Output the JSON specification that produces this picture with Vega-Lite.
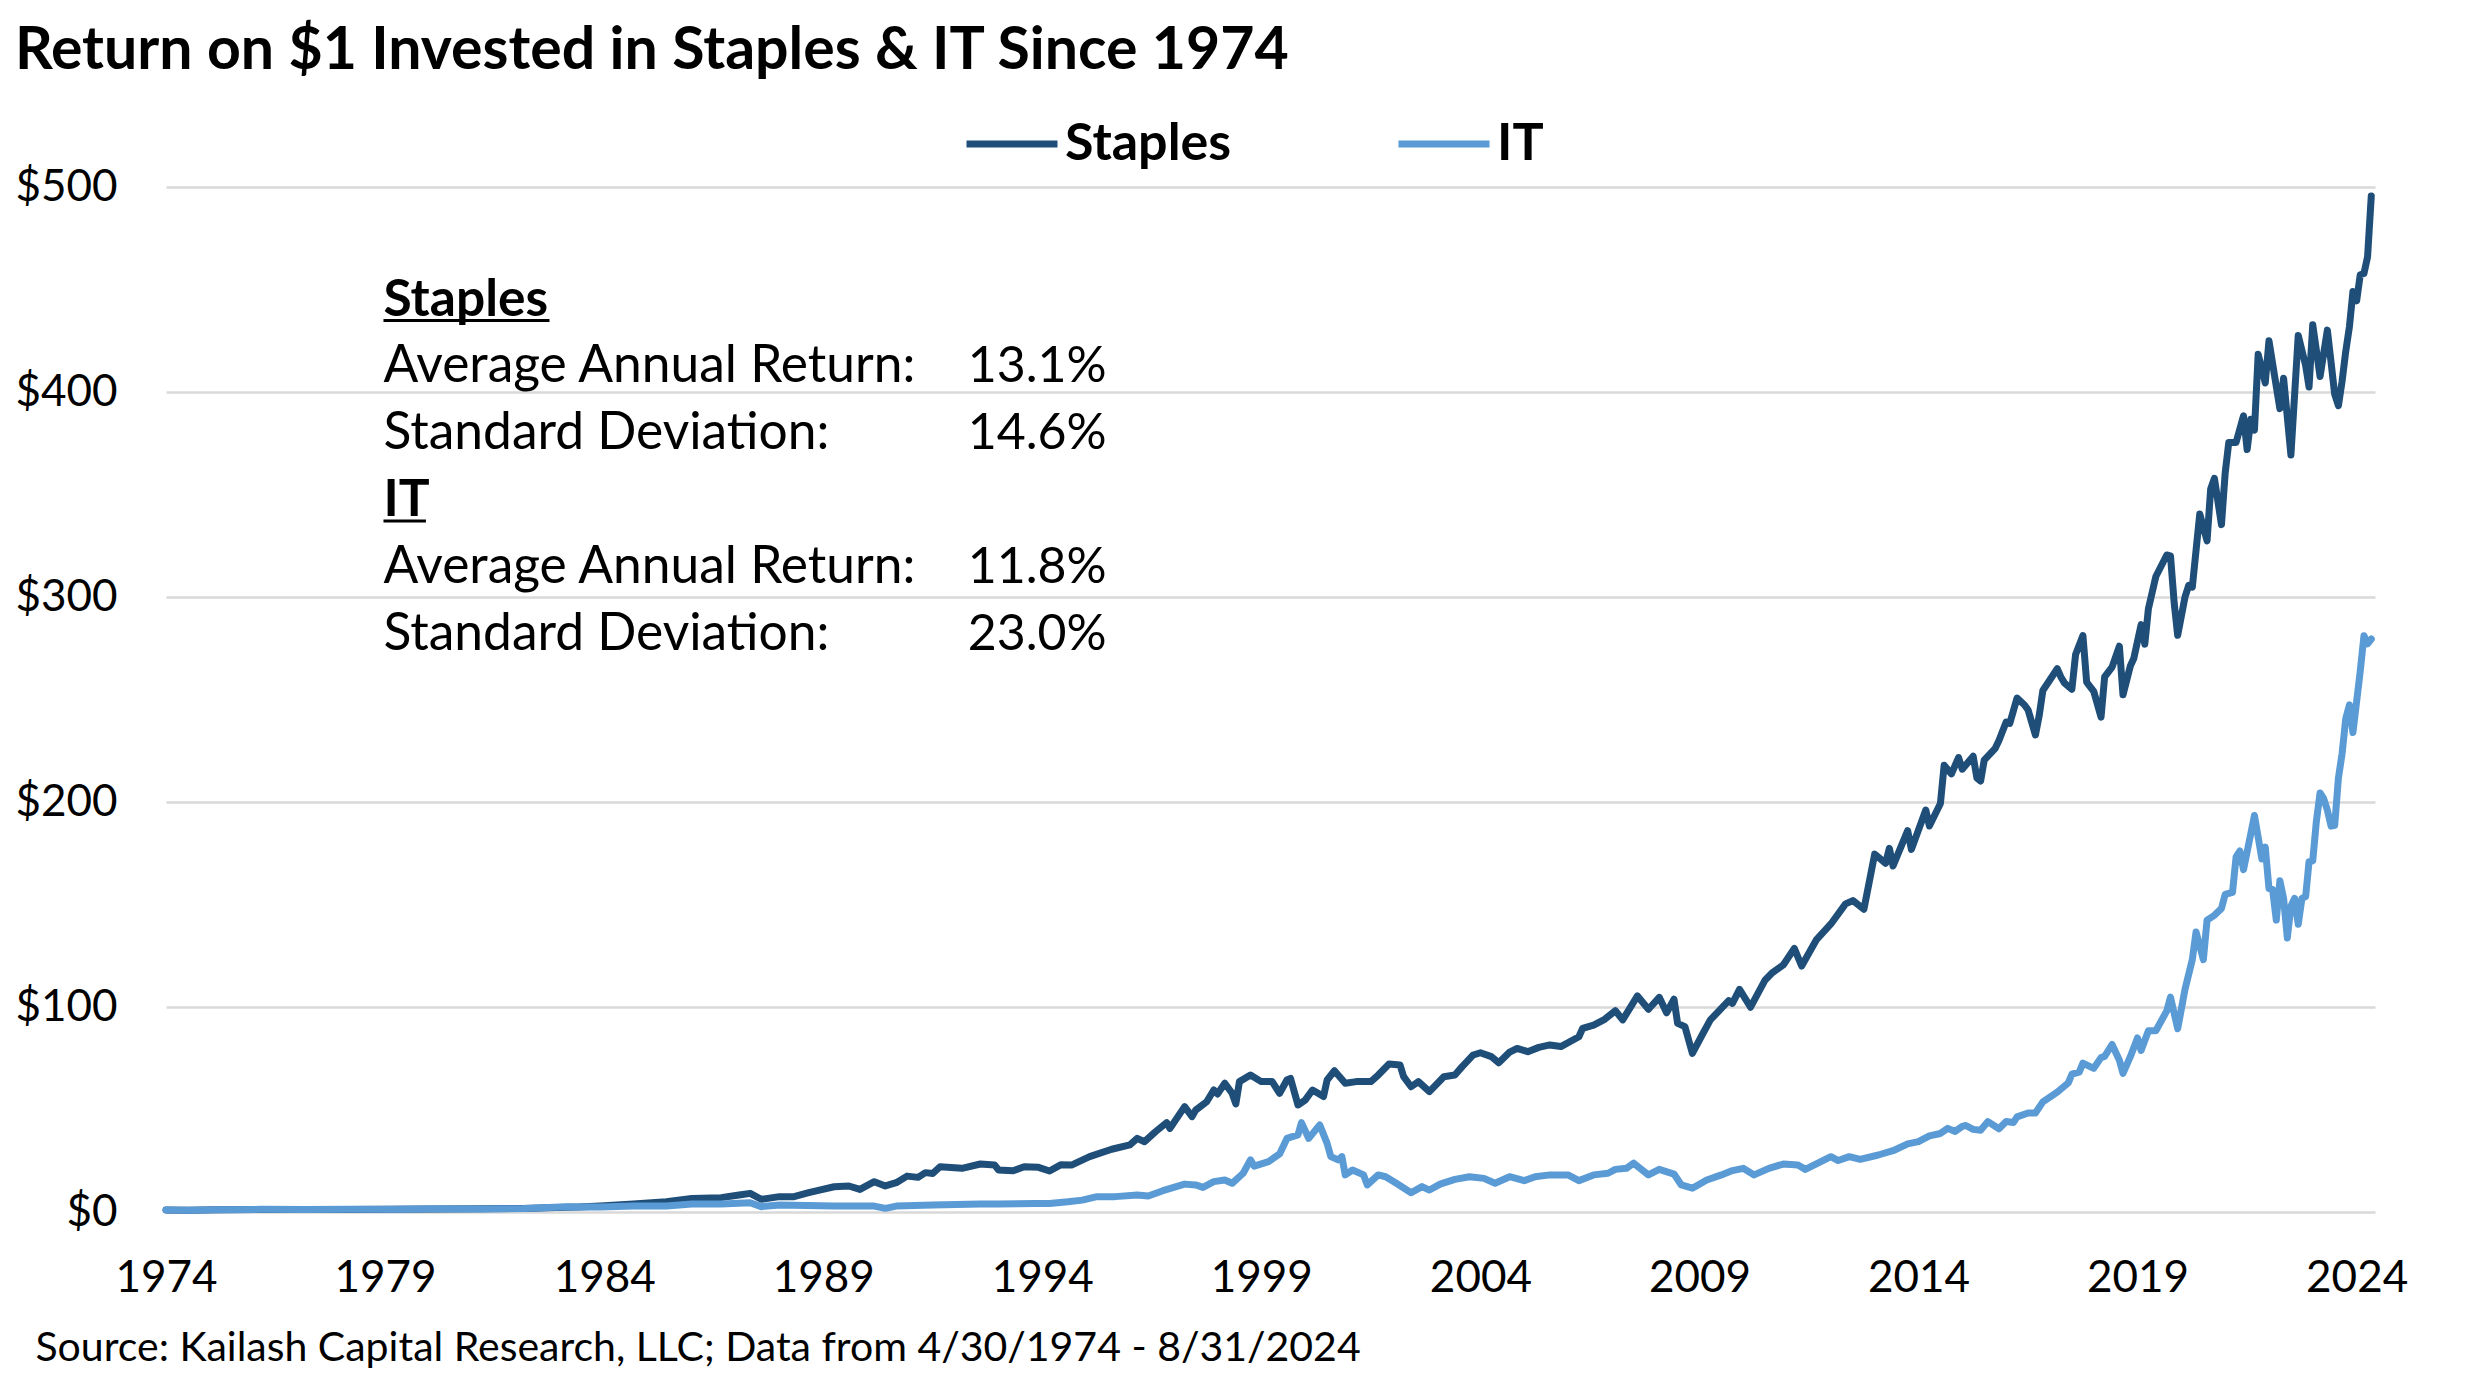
{
  "$schema": "https://vega.github.io/schema/vega-lite/v6.json",
  "width": 2209,
  "height": 1025,
  "autosize": {"type": "none"},
  "padding": {"left": 166, "top": 187, "right": 100, "bottom": 174},
  "background": "white",
  "config": {
    "font": "Lato",
    "view": {"stroke": null},
    "text": {"color": "black", "font": "Lato", "fontSize": 51.5, "align": "left", "baseline": "alphabetic"}
  },
  "title": {
    "text": "Return on $1 Invested in Staples & IT Since 1974",
    "anchor": "start",
    "fontSize": 59,
    "font": "Lato",
    "fontWeight": "bold",
    "color": "black",
    "offset": 14
  },
  "datasets": {
    "staples": [
      {"d":"1974-04","v":1.0},{"d":"1974-10","v":0.9},{"d":"1975-06","v":1.1},{"d":"1976-06","v":1.2},{"d":"1977-06","v":1.2},{"d":"1978-06","v":1.2},{"d":"1979-06","v":1.3},{"d":"1980-06","v":1.5},{"d":"1981-06","v":1.6},{"d":"1982-06","v":1.7},{"d":"1983-03","v":2.2},{"d":"1983-09","v":2.4},{"d":"1984-03","v":2.9},{"d":"1984-12","v":3.9},{"d":"1985-09","v":5.0},{"d":"1986-04","v":6.6},{"d":"1986-12","v":7.0},{"d":"1987-05","v":8.3},{"d":"1987-08","v":9.1},{"d":"1987-11","v":6.2},{"d":"1988-04","v":7.5},{"d":"1988-08","v":7.5},{"d":"1988-12","v":9.4},{"d":"1989-03","v":10.7},{"d":"1989-07","v":12.3},{"d":"1989-11","v":12.7},{"d":"1990-02","v":11.0},{"d":"1990-06","v":14.8},{"d":"1990-09","v":12.7},{"d":"1990-12","v":14.3},{"d":"1991-03","v":17.5},{"d":"1991-06","v":16.9},{"d":"1991-08","v":19.2},{"d":"1991-10","v":18.8},{"d":"1991-12","v":22.1},{"d":"1992-06","v":21.3},{"d":"1992-11","v":23.4},{"d":"1993-03","v":22.9},{"d":"1993-04","v":20.5},{"d":"1993-08","v":20.1},{"d":"1993-11","v":22.1},{"d":"1994-03","v":21.8},{"d":"1994-06","v":20.0},{"d":"1994-09","v":23.0},{"d":"1994-12","v":22.9},{"d":"1995-05","v":27.0},{"d":"1995-11","v":30.6},{"d":"1996-04","v":32.7},{"d":"1996-06","v":35.9},{"d":"1996-08","v":34.3},{"d":"1996-11","v":39.2},{"d":"1997-02","v":43.6},{"d":"1997-03","v":40.8},{"d":"1997-07","v":51.4},{"d":"1997-09","v":46.5},{"d":"1997-10","v":49.7},{"d":"1998-01","v":53.8},{"d":"1998-03","v":59.5},{"d":"1998-04","v":57.6},{"d":"1998-06","v":62.8},{"d":"1998-08","v":57.9},{"d":"1998-09","v":52.7},{"d":"1998-10","v":63.6},{"d":"1999-01","v":66.8},{"d":"1999-04","v":63.6},{"d":"1999-07","v":63.6},{"d":"1999-09","v":57.9},{"d":"1999-11","v":64.4},{"d":"1999-12","v":65.2},{"d":"2000-02","v":52.2},{"d":"2000-04","v":54.6},{"d":"2000-06","v":59.5},{"d":"2000-09","v":56.3},{"d":"2000-10","v":64.4},{"d":"2000-12","v":68.9},{"d":"2001-03","v":62.8},{"d":"2001-06","v":63.6},{"d":"2001-10","v":63.6},{"d":"2001-12","v":66.8},{"d":"2002-03","v":72.2},{"d":"2002-06","v":71.7},{"d":"2002-07","v":66.0},{"d":"2002-09","v":61.1},{"d":"2002-11","v":63.6},{"d":"2003-02","v":58.7},{"d":"2003-06","v":66.0},{"d":"2003-09","v":66.8},{"d":"2003-11","v":70.9},{"d":"2004-02","v":76.6},{"d":"2004-04","v":77.7},{"d":"2004-07","v":75.8},{"d":"2004-09","v":72.8},{"d":"2004-12","v":78.0},{"d":"2005-02","v":79.8},{"d":"2005-05","v":78.2},{"d":"2005-08","v":80.3},{"d":"2005-11","v":81.5},{"d":"2006-02","v":80.7},{"d":"2006-07","v":85.5},{"d":"2006-08","v":89.6},{"d":"2006-11","v":91.2},{"d":"2007-02","v":94.0},{"d":"2007-05","v":98.2},{"d":"2007-07","v":93.7},{"d":"2007-11","v":105.4},{"d":"2008-02","v":98.9},{"d":"2008-05","v":104.7},{"d":"2008-07","v":97.2},{"d":"2008-09","v":103.8},{"d":"2008-10","v":92.0},{"d":"2008-12","v":90.4},{"d":"2009-02","v":77.4},{"d":"2009-05","v":87.2},{"d":"2009-07","v":93.7},{"d":"2009-12","v":103.1},{"d":"2010-01","v":101.8},{"d":"2010-03","v":108.6},{"d":"2010-06","v":99.9},{"d":"2010-10","v":113.2},{"d":"2010-12","v":116.8},{"d":"2011-03","v":120.5},{"d":"2011-06","v":128.6},{"d":"2011-08","v":120.0},{"d":"2011-12","v":132.7},{"d":"2012-04","v":140.5},{"d":"2012-08","v":150.3},{"d":"2012-10","v":151.9},{"d":"2013-01","v":147.7},{"d":"2013-04","v":174.6},{"d":"2013-07","v":170.1},{"d":"2013-08","v":177.4},{"d":"2013-09","v":168.8},{"d":"2014-01","v":186.0},{"d":"2014-02","v":176.9},{"d":"2014-06","v":196.1},{"d":"2014-07","v":188.3},{"d":"2014-10","v":199.3},{"d":"2014-11","v":217.9},{"d":"2015-01","v":213.7},{"d":"2015-03","v":221.7},{"d":"2015-04","v":216.0},{"d":"2015-07","v":222.3},{"d":"2015-08","v":211.7},{"d":"2015-09","v":210.2},{"d":"2015-10","v":220.4},{"d":"2016-01","v":226.2},{"d":"2016-02","v":230.0},{"d":"2016-04","v":239.0},{"d":"2016-05","v":238.3},{"d":"2016-07","v":250.7},{"d":"2016-09","v":247.3},{"d":"2016-10","v":244.9},{"d":"2016-12","v":232.7},{"d":"2017-01","v":242.0},{"d":"2017-02","v":254.4},{"d":"2017-06","v":265.0},{"d":"2017-07","v":261.0},{"d":"2017-08","v":258.0},{"d":"2017-10","v":255.0},{"d":"2017-11","v":272.0},{"d":"2018-01","v":281.2},{"d":"2018-02","v":258.5},{"d":"2018-04","v":254.0},{"d":"2018-06","v":241.4},{"d":"2018-07","v":261.0},{"d":"2018-09","v":265.8},{"d":"2018-11","v":276.0},{"d":"2018-12","v":252.3},{"d":"2019-02","v":266.5},{"d":"2019-03","v":270.0},{"d":"2019-05","v":286.5},{"d":"2019-06","v":277.0},{"d":"2019-07","v":294.3},{"d":"2019-09","v":310.0},{"d":"2019-12","v":320.5},{"d":"2020-01","v":320.1},{"d":"2020-02","v":297.0},{"d":"2020-03","v":281.3},{"d":"2020-05","v":300.0},{"d":"2020-06","v":305.7},{"d":"2020-07","v":304.8},{"d":"2020-09","v":340.5},{"d":"2020-11","v":327.4},{"d":"2020-12","v":352.7},{"d":"2021-01","v":357.9},{"d":"2021-03","v":335.3},{"d":"2021-04","v":360.5},{"d":"2021-05","v":375.4},{"d":"2021-07","v":375.4},{"d":"2021-09","v":388.4},{"d":"2021-10","v":371.9},{"d":"2021-11","v":386.7},{"d":"2021-12","v":381.4},{"d":"2022-01","v":418.4},{"d":"2022-03","v":404.4},{"d":"2022-04","v":425.0},{"d":"2022-06","v":402.7},{"d":"2022-07","v":391.9},{"d":"2022-08","v":406.7},{"d":"2022-10","v":369.3},{"d":"2022-12","v":427.6},{"d":"2023-02","v":412.8},{"d":"2023-03","v":402.4},{"d":"2023-04","v":432.8},{"d":"2023-06","v":407.6},{"d":"2023-08","v":430.2},{"d":"2023-10","v":398.9},{"d":"2023-11","v":393.3},{"d":"2023-12","v":405.0},{"d":"2024-01","v":419.8},{"d":"2024-02","v":432.0},{"d":"2024-03","v":449.0},{"d":"2024-04","v":444.5},{"d":"2024-05","v":457.2},{"d":"2024-06","v":457.8},{"d":"2024-07","v":466.0},{"d":"2024-08","v":495.6}
    ],
    "it": [
      {"d":"1974-04","v":1.0},{"d":"1974-10","v":0.8},{"d":"1975-06","v":1.1},{"d":"1976-06","v":1.3},{"d":"1977-06","v":1.2},{"d":"1978-06","v":1.3},{"d":"1979-06","v":1.3},{"d":"1980-06","v":1.6},{"d":"1981-06","v":1.5},{"d":"1982-06","v":1.7},{"d":"1983-06","v":2.6},{"d":"1984-03","v":2.4},{"d":"1984-12","v":2.9},{"d":"1985-09","v":2.9},{"d":"1986-04","v":3.9},{"d":"1986-12","v":3.9},{"d":"1987-08","v":4.5},{"d":"1987-11","v":2.6},{"d":"1988-04","v":3.4},{"d":"1989-07","v":2.9},{"d":"1990-06","v":2.9},{"d":"1990-09","v":1.8},{"d":"1990-12","v":2.9},{"d":"1991-10","v":3.4},{"d":"1992-11","v":3.9},{"d":"1993-04","v":3.9},{"d":"1994-02","v":4.2},{"d":"1994-06","v":4.2},{"d":"1994-11","v":5.0},{"d":"1995-03","v":5.8},{"d":"1995-07","v":7.5},{"d":"1995-12","v":7.5},{"d":"1996-06","v":8.3},{"d":"1996-09","v":7.8},{"d":"1997-01","v":10.4},{"d":"1997-07","v":13.6},{"d":"1997-10","v":13.2},{"d":"1997-12","v":12.0},{"d":"1998-03","v":14.8},{"d":"1998-06","v":15.6},{"d":"1998-08","v":14.0},{"d":"1998-11","v":18.9},{"d":"1999-01","v":25.4},{"d":"1999-02","v":22.4},{"d":"1999-06","v":24.6},{"d":"1999-09","v":28.3},{"d":"1999-11","v":35.9},{"d":"2000-02","v":37.6},{"d":"2000-03","v":43.6},{"d":"2000-05","v":35.9},{"d":"2000-07","v":40.3},{"d":"2000-08","v":42.4},{"d":"2000-10","v":33.5},{"d":"2000-11","v":27.0},{"d":"2001-01","v":25.4},{"d":"2001-02","v":27.0},{"d":"2001-03","v":18.1},{"d":"2001-05","v":20.5},{"d":"2001-08","v":18.1},{"d":"2001-09","v":13.2},{"d":"2001-12","v":18.1},{"d":"2002-02","v":17.2},{"d":"2002-05","v":14.0},{"d":"2002-09","v":9.4},{"d":"2002-12","v":12.4},{"d":"2003-02","v":10.7},{"d":"2003-05","v":13.6},{"d":"2003-09","v":15.9},{"d":"2004-01","v":17.2},{"d":"2004-05","v":16.4},{"d":"2004-08","v":14.0},{"d":"2004-12","v":17.2},{"d":"2005-04","v":15.3},{"d":"2005-07","v":17.2},{"d":"2005-11","v":18.1},{"d":"2006-04","v":18.1},{"d":"2006-07","v":15.3},{"d":"2006-11","v":18.1},{"d":"2007-03","v":18.9},{"d":"2007-05","v":20.8},{"d":"2007-08","v":21.3},{"d":"2007-10","v":23.8},{"d":"2008-02","v":18.1},{"d":"2008-05","v":20.8},{"d":"2008-09","v":18.5},{"d":"2008-11","v":13.2},{"d":"2009-02","v":11.6},{"d":"2009-06","v":15.6},{"d":"2009-10","v":18.1},{"d":"2010-01","v":20.2},{"d":"2010-04","v":21.3},{"d":"2010-07","v":18.1},{"d":"2010-11","v":21.3},{"d":"2011-03","v":23.4},{"d":"2011-07","v":22.9},{"d":"2011-09","v":20.8},{"d":"2012-04","v":27.0},{"d":"2012-06","v":25.1},{"d":"2012-09","v":27.0},{"d":"2012-12","v":25.7},{"d":"2013-05","v":27.8},{"d":"2013-09","v":29.9},{"d":"2014-01","v":33.2},{"d":"2014-04","v":34.3},{"d":"2014-07","v":37.1},{"d":"2014-10","v":38.3},{"d":"2014-12","v":40.8},{"d":"2015-02","v":39.3},{"d":"2015-04","v":41.8},{"d":"2015-05","v":42.2},{"d":"2015-07","v":40.3},{"d":"2015-09","v":39.9},{"d":"2015-11","v":44.1},{"d":"2016-02","v":40.6},{"d":"2016-04","v":44.1},{"d":"2016-06","v":43.7},{"d":"2016-07","v":46.4},{"d":"2016-10","v":48.3},{"d":"2016-12","v":48.3},{"d":"2017-02","v":53.7},{"d":"2017-06","v":58.5},{"d":"2017-09","v":63.0},{"d":"2017-10","v":67.2},{"d":"2017-12","v":68.2},{"d":"2018-01","v":72.6},{"d":"2018-04","v":70.1},{"d":"2018-06","v":75.3},{"d":"2018-07","v":75.9},{"d":"2018-09","v":81.7},{"d":"2018-11","v":74.0},{"d":"2018-12","v":67.6},{"d":"2019-02","v":75.9},{"d":"2019-04","v":84.9},{"d":"2019-05","v":78.8},{"d":"2019-07","v":88.4},{"d":"2019-09","v":88.4},{"d":"2019-12","v":98.1},{"d":"2020-01","v":104.8},{"d":"2020-03","v":89.4},{"d":"2020-05","v":108.6},{"d":"2020-07","v":123.1},{"d":"2020-08","v":136.6},{"d":"2020-10","v":123.1},{"d":"2020-11","v":142.4},{"d":"2021-01","v":144.7},{"d":"2021-03","v":148.1},{"d":"2021-04","v":154.9},{"d":"2021-06","v":155.9},{"d":"2021-07","v":173.2},{"d":"2021-08","v":176.1},{"d":"2021-09","v":167.0},{"d":"2021-11","v":184.7},{"d":"2021-12","v":193.4},{"d":"2022-02","v":172.2},{"d":"2022-03","v":178.0},{"d":"2022-04","v":157.8},{"d":"2022-05","v":157.4},{"d":"2022-06","v":142.4},{"d":"2022-07","v":161.6},{"d":"2022-08","v":153.0},{"d":"2022-09","v":133.7},{"d":"2022-10","v":149.1},{"d":"2022-11","v":153.0},{"d":"2022-12","v":140.4},{"d":"2023-01","v":153.0},{"d":"2023-02","v":153.9},{"d":"2023-03","v":170.9},{"d":"2023-04","v":171.3},{"d":"2023-05","v":190.5},{"d":"2023-06","v":204.4},{"d":"2023-07","v":201.7},{"d":"2023-08","v":196.0},{"d":"2023-09","v":188.2},{"d":"2023-10","v":188.6},{"d":"2023-11","v":211.7},{"d":"2023-12","v":223.3},{"d":"2024-01","v":240.6},{"d":"2024-02","v":247.4},{"d":"2024-03","v":233.9},{"d":"2024-05","v":263.8},{"d":"2024-06","v":281.1},{"d":"2024-07","v":277.2},{"d":"2024-08","v":279.5}
    ]
  },
  "layer": [
    {
      "data": {"name": "staples", "format": {"parse": {"d": "utc:'%Y-%m'"}}},
      "mark": {"type": "line", "strokeWidth": 7, "strokeJoin": "round", "strokeCap": "round"},
      "encoding": {
        "x": {
          "field": "d", "type": "temporal",
          "scale": {"type": "utc", "domain": [{"year": 1974, "month": 4, "date": 1, "utc": true}, {"year": 2024, "month": 9, "date": 1, "utc": true}]},
          "axis": {
            "values": [
              {"year": 1974, "month": 4, "date": 1, "utc": true},
              {"year": 1979, "month": 4, "date": 1, "utc": true},
              {"year": 1984, "month": 4, "date": 1, "utc": true},
              {"year": 1989, "month": 4, "date": 1, "utc": true},
              {"year": 1994, "month": 4, "date": 1, "utc": true},
              {"year": 1999, "month": 4, "date": 1, "utc": true},
              {"year": 2004, "month": 4, "date": 1, "utc": true},
              {"year": 2009, "month": 4, "date": 1, "utc": true},
              {"year": 2014, "month": 4, "date": 1, "utc": true},
              {"year": 2019, "month": 4, "date": 1, "utc": true},
              {"year": 2024, "month": 4, "date": 1, "utc": true}
            ],
            "format": "%Y",
            "grid": false, "domain": false, "ticks": false,
            "labelFontSize": 44, "labelColor": "black", "labelPadding": 44, "labelFont": "Lato",
            "labelOverlap": false, "labelFlush": false, "labelBound": false,
            "title": "Source: Kailash Capital Research, LLC; Data from 4/30/1974 - 8/31/2024",
            "titleFont": "Lato", "titleFontSize": 41, "titleFontWeight": "normal", "titleColor": "black",
            "titleAnchor": "start", "titleAlign": "left", "titleBaseline": "middle",
            "titleX": -131, "titleY": 136
          }
        },
        "y": {
          "field": "v", "type": "quantitative",
          "scale": {"domain": [0, 500]},
          "axis": {
            "values": [0, 100, 200, 300, 400, 500],
            "format": "$.0f",
            "grid": true, "gridColor": "#d9d9d9", "gridWidth": 2.5,
            "domain": false, "ticks": false,
            "labelFontSize": 44, "labelColor": "black", "labelPadding": 49, "labelFont": "Lato",
            "title": null
          }
        },
        "color": {
          "datum": "Staples",
          "scale": {"domain": ["Staples", "IT"], "range": ["#1f4e79", "#5b9bd5"]},
          "legend": {
            "orient": "none", "legendX": 797, "legendY": -92,
            "direction": "horizontal", "title": null,
            "symbolType": "stroke", "symbolStrokeWidth": 7, "symbolSize": 8281,
            "labelFontSize": 52, "labelFontWeight": "bold", "labelFont": "Lato", "labelColor": "black",
            "labelOffset": 4, "labelLimit": 500, "columnPadding": 152
          }
        }
      }
    },
    {
      "data": {"name": "it", "format": {"parse": {"d": "utc:'%Y-%m'"}}},
      "mark": {"type": "line", "strokeWidth": 7, "strokeJoin": "round", "strokeCap": "round"},
      "encoding": {
        "x": {"field": "d", "type": "temporal"},
        "y": {"field": "v", "type": "quantitative"},
        "color": {"datum": "IT"}
      }
    },
    {
      "data": {"values": [{}]},
      "mark": {"type": "text", "fontWeight": "bold"},
      "encoding": {
        "x": {"datum": {"year": 1979, "month": 3, "date": 19, "utc": true}, "type": "temporal"},
        "y": {"datum": 437.3, "type": "quantitative"},
        "text": {"value": "Staples"}
      }
    },
    {
      "data": {"values": [{}]},
      "mark": {"type": "text"},
      "encoding": {
        "x": {"datum": {"year": 1979, "month": 3, "date": 19, "utc": true}, "type": "temporal"},
        "y": {"datum": 404.7, "type": "quantitative"},
        "text": {"value": "Average Annual Return:"}
      }
    },
    {
      "data": {"values": [{}]},
      "mark": {"type": "text"},
      "encoding": {
        "x": {"datum": {"year": 1979, "month": 3, "date": 19, "utc": true}, "type": "temporal"},
        "y": {"datum": 372.0, "type": "quantitative"},
        "text": {"value": "Standard Deviation:"}
      }
    },
    {
      "data": {"values": [{}]},
      "mark": {"type": "text", "fontWeight": "bold"},
      "encoding": {
        "x": {"datum": {"year": 1979, "month": 3, "date": 19, "utc": true}, "type": "temporal"},
        "y": {"datum": 339.4, "type": "quantitative"},
        "text": {"value": "IT"}
      }
    },
    {
      "data": {"values": [{}]},
      "mark": {"type": "text"},
      "encoding": {
        "x": {"datum": {"year": 1979, "month": 3, "date": 19, "utc": true}, "type": "temporal"},
        "y": {"datum": 306.8, "type": "quantitative"},
        "text": {"value": "Average Annual Return:"}
      }
    },
    {
      "data": {"values": [{}]},
      "mark": {"type": "text"},
      "encoding": {
        "x": {"datum": {"year": 1979, "month": 3, "date": 19, "utc": true}, "type": "temporal"},
        "y": {"datum": 274.2, "type": "quantitative"},
        "text": {"value": "Standard Deviation:"}
      }
    },
    {
      "data": {"values": [{}]},
      "mark": {"type": "text", "fontSize": 50},
      "encoding": {
        "x": {"datum": {"year": 1992, "month": 7, "date": 19, "utc": true}, "type": "temporal"},
        "y": {"datum": 404.7, "type": "quantitative"},
        "text": {"value": "13.1%"}
      }
    },
    {
      "data": {"values": [{}]},
      "mark": {"type": "text", "fontSize": 50},
      "encoding": {
        "x": {"datum": {"year": 1992, "month": 7, "date": 19, "utc": true}, "type": "temporal"},
        "y": {"datum": 372.0, "type": "quantitative"},
        "text": {"value": "14.6%"}
      }
    },
    {
      "data": {"values": [{}]},
      "mark": {"type": "text", "fontSize": 50},
      "encoding": {
        "x": {"datum": {"year": 1992, "month": 7, "date": 19, "utc": true}, "type": "temporal"},
        "y": {"datum": 306.8, "type": "quantitative"},
        "text": {"value": "11.8%"}
      }
    },
    {
      "data": {"values": [{}]},
      "mark": {"type": "text", "fontSize": 50},
      "encoding": {
        "x": {"datum": {"year": 1992, "month": 7, "date": 19, "utc": true}, "type": "temporal"},
        "y": {"datum": 274.2, "type": "quantitative"},
        "text": {"value": "23.0%"}
      }
    },
    {
      "data": {"values": [{}]},
      "mark": {"type": "rule", "color": "black", "strokeWidth": 3},
      "encoding": {
        "x": {"datum": {"year": 1979, "month": 3, "date": 19, "utc": true}, "type": "temporal"},
        "x2": {"datum": {"year": 1983, "month": 1, "date": 1, "utc": true}},
        "y": {"datum": 434.9, "type": "quantitative"}
      }
    },
    {
      "data": {"values": [{}]},
      "mark": {"type": "rule", "color": "black", "strokeWidth": 3},
      "encoding": {
        "x": {"datum": {"year": 1979, "month": 3, "date": 19, "utc": true}, "type": "temporal"},
        "x2": {"datum": {"year": 1980, "month": 3, "date": 7, "utc": true}},
        "y": {"datum": 337.1, "type": "quantitative"}
      }
    }
  ]
}
